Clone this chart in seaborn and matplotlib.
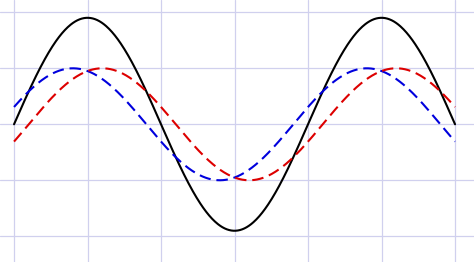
import numpy as np
import pandas as pd
import matplotlib
matplotlib.use("Agg")
import matplotlib.pyplot as plt
import seaborn as sns

# Curve parameters
series_names = ["sum", "lead", "lag"]
amplitudes = [1.902, 1.0, 1.0]
phases = [0.0, 0.1 * np.pi, -0.1 * np.pi]
colors = ["black", "#0000dd", "#dd0000"]
styles = ["-", "--", "--"]

x = np.linspace(0, 3 * np.pi, 600)
frames = []
for name, a, p in zip(series_names, amplitudes, phases):
    frames.append(pd.DataFrame({"x": x, "y": a * np.sin(x + p), "s": name}))
df = pd.concat(frames, ignore_index=True)

sns.set_style("white")
fig = plt.figure(figsize=(4.74, 2.62), dpi=100)
ax = fig.add_axes([0, 0, 1, 1])

for name, c in zip(series_names, colors):
    sub = df[df["s"] == name]
    sns.lineplot(data=sub, x="x", y="y", ax=ax, color=c, lw=1.5,
                 legend=False, estimator=None)
for ln, ls in zip(ax.get_lines(), styles):
    ln.set_linestyle(ls)
    if ls == "--":
        ln.set_dashes((5.5, 2.8))

ax.set_xlim(-0.30, 9.83)
ax.set_ylim(-2.46, 2.22)
ax.set_xticks(np.arange(0, 3 * np.pi + 0.1, np.pi / 2))
ax.set_yticks([-2, -1, 0, 1, 2])
ax.grid(True, color="#d0d0ee", lw=0.9)
ax.set_axisbelow(True)
ax.tick_params(length=0, labelbottom=False, labelleft=False)
for sp in ax.spines.values():
    sp.set_visible(False)
ax.set_xlabel("")
ax.set_ylabel("")

fig.savefig("out.png", dpi=100)
